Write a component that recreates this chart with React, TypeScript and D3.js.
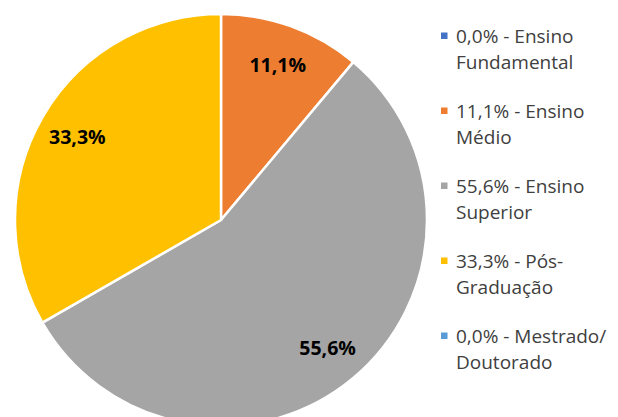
import React from "react";
import * as d3 from "d3";

const categories = ["Ensino Fundamental", "Ensino Médio", "Ensino Superior", "Pós-Graduação", "Mestrado/Doutorado"];
const values = [0.0, 11.1, 55.6, 33.3, 0.0];
const legendLines = [
  ["0,0% - Ensino", "Fundamental"],
  ["11,1% - Ensino", "Médio"],
  ["55,6% - Ensino", "Superior"],
  ["33,3% - Pós-", "Graduação"],
  ["0,0% - Mestrado/", "Doutorado"],
];
const colors = ["#4472C4", "#ED7D31", "#A5A5A5", "#FFC000", "#5B9BD5"];

const W = 618;
const H = 417;
const cx = 221;
const cy = 220;
const R = 206;
const labelR = 166;

const fmt = (v: number) => v.toFixed(1).replace(".", ",") + "%";

export default function App() {
  const pie = d3.pie<number>().sort(null).value((d) => d);
  const arcs = pie(values);
  const arcGen = d3.arc<d3.PieArcDatum<number>>().innerRadius(0).outerRadius(R);
  const labelArc = d3.arc<d3.PieArcDatum<number>>().innerRadius(labelR).outerRadius(labelR);

  const legendY = d3.scaleLinear().domain([0, categories.length - 1]).range([43, 343]);

  return (
    <svg width={W} height={H} style={{ position: "absolute", left: 0, top: 0, background: "#fff" }}>
      <g transform={`translate(${cx},${cy})`}>
        {arcs.map((a, i) =>
          a.value > 0 ? (
            <path key={categories[i]} d={arcGen(a) || ""} fill={colors[i]} stroke="#fff" strokeWidth={2.5} strokeLinejoin="round" />
          ) : null
        )}
        {arcs.map((a, i) => {
          if (a.value <= 0) return null;
          const [x, y] = labelArc.centroid(a);
          return (
            <text
              key={"l" + i}
              x={x}
              y={y}
              textAnchor="middle"
              dominantBaseline="central"
              fontFamily="'Open Sans', sans-serif"
              fontWeight="bold"
              fontSize={19.5}
              fill="#000"
            >
              {fmt(a.value)}
            </text>
          );
        })}
      </g>
      <g fontFamily="'Open Sans', sans-serif" fontSize={19} fill="#404040">
        {legendLines.map((lines, i) => {
          const y = legendY(i);
          return (
            <g key={categories[i]}>
              <rect x={441} y={y - 10.5} width={6.5} height={6.5} fill={colors[i]} />
              <text x={456} y={y}>{lines[0]}</text>
              <text x={456} y={y + 26}>{lines[1]}</text>
            </g>
          );
        })}
      </g>
    </svg>
  );
}
